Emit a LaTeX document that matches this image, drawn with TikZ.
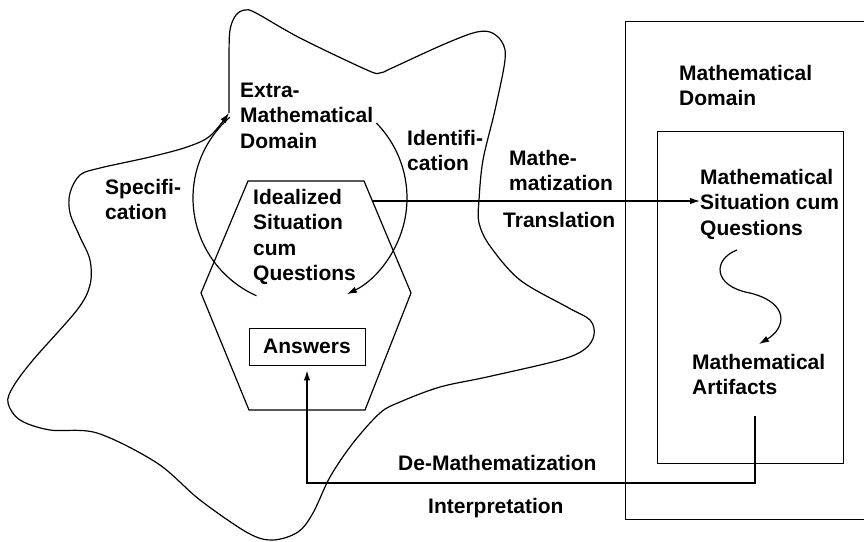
\documentclass[tikz,border=0pt]{standalone}
\usepackage{fontspec}
\setmainfont{Liberation Sans}
\usetikzlibrary{arrows.meta}
\begin{document}
\begin{tikzpicture}[x=1pt,y=-1pt,
  lbl/.style={font=\bfseries\fontsize{21}{25.3}\selectfont, align=left, inner sep=0pt, anchor=north west},
  ln/.style={line width=1.2pt},
  tip/.style={-{Latex[length=10pt,width=6.5pt]}},
  arr/.style={line width=1.3pt, tip},
  box/.style={line width=0.9pt}]
\useasboundingbox (0,0) rectangle (864,541);
\fill[white] (0,0) rectangle (864,541);

% Mathematical domain rectangles
\draw[box] (870,21) -- (625,21) -- (625,519) -- (870,519);
\draw[box] (657,131) rectangle (843,463);

% extra-mathematical domain outline (ends in the Specification arrow)
\draw[ln, tip] plot[smooth, tension=0.55] coordinates {
 (229,113) (229,60) (230,30) (236,15) (245,10) (256,13) (300,38) (367,70) (380,73) (392,68)
 (440,46) (473,33) (490,32) (502,42) (505,60) (495,110) (483,160) (479,200) (479,223)
 (490,246) (520,280) (567,307) (590,320) (594,335) (585,349) (560,360) (487,377) (440,387)
 (400,402) (380,413) (353,443) (330,477) (313,513) (298,532) (273,540) (248,533) (200,500)
 (157,463) (97,433) (50,430) (20,420) (8,403) (13,387) (33,360) (77,310) (90,285) (90,260)
 (80,237) (70,213) (70,193) (80,175) (100,168) (150,157) (187,147) (210,136) (229,113)};

% hexagon
\coordinate (h1) at (248,181);
\coordinate (h2) at (364,181);
\coordinate (h3) at (411,293);
\coordinate (h4) at (365,410);
\coordinate (h5) at (249,410);
\coordinate (h6) at (201,293);
\draw[ln] (h1) -- (h2) -- (h3) -- (h4) -- (h5) -- (h6) -- cycle;

% identification circle
\coordinate (cc) at (300,198);
\draw[ln] (cc) ++(-131:107) arc[start angle=-131, end angle=-246, radius=107];
\draw[ln, tip] (cc) ++(-44.5:107) arc[start angle=-44.5, end angle=64, radius=107];

% texts
\node[lbl] (emd) at (240,83) {Extra-\\Mathematical\\Domain};
\node[lbl] (spec) at (105,179) {Specifi-\\cation};
\node[lbl] (ident) at (407,130) {Identifi-\\cation};
\node[lbl] (isq) at (253,189) {Idealized\\Situation\\cum\\Questions};
\node[lbl] (mathe) at (509,150) {Mathe-\\matization};
\node[lbl] (trans) at (503,212) {Translation};
\node[lbl] (md) at (679,65) {Mathematical\\Domain};
\node[lbl] (msq) at (700,169) {Mathematical\\Situation cum\\Questions};
\node[lbl] (maf) at (692,354) {Mathematical\\Artifacts};
\node[lbl] (demath) at (398,455) {De-Mathematization};
\node[lbl] (interp) at (428,498) {Interpretation};
\node[draw, box, font=\bfseries\fontsize{21}{25.3}\selectfont, minimum width=116pt, minimum height=37pt, inner sep=0pt] (ans) at (307,346.5) {Answers};

% mathematization arrow
\coordinate (mstart) at (372,201);
\draw[arr] (mstart) -- (mstart -| msq.west);

% internal mathematical processing
\coordinate (p0) at (737,250);
\coordinate (p1) at (750,293);
\coordinate (p2) at (759,344);
\draw[ln, tip] (p0) .. controls (713,259) and (712,286) .. (p1) .. controls (790,303) and (786,328) .. (p2);

% de-mathematization arrow
\coordinate (artb) at (755,416);
\coordinate (dmc) at (755,483);
\draw[arr, shorten >=5pt] (artb) -- (dmc) -| (ans.south);
\end{tikzpicture}
\end{document}
